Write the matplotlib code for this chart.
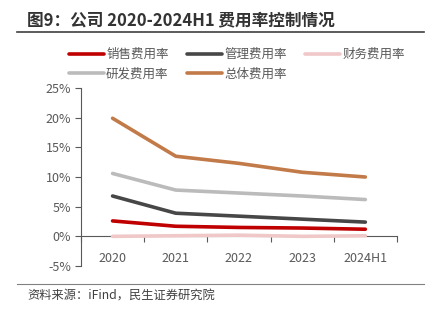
import matplotlib
matplotlib.use("Agg")
import matplotlib.pyplot as plt
from matplotlib.lines import Line2D
from matplotlib.ticker import FuncFormatter

plt.rcParams['font.family'] = ['Noto Sans CJK SC', 'DejaVu Sans']

years = ['2020', '2021', '2022', '2023', '2024H1']
sales = [2.6, 1.7, 1.5, 1.4, 1.2]
admin = [6.8, 3.9, 3.4, 2.9, 2.4]
finance = [0.0, 0.1, 0.2, 0.0, 0.1]
rnd = [10.6, 7.8, 7.3, 6.8, 6.2]
total = [19.9, 13.5, 12.3, 10.8, 10.0]

series = [
    ('销售费用率', sales, '#C00000'),
    ('管理费用率', admin, '#474747'),
    ('财务费用率', finance, '#F0C8C8'),
    ('研发费用率', rnd, '#BBBBBB'),
    ('总体费用率', total, '#C27A48'),
]

fig = plt.figure(figsize=(4.34, 3.25), dpi=100)
ax = fig.add_axes([0.1866, 0.1815, 0.728, 0.5477])

x = list(range(len(years)))
handles = {}
for name, vals, color in series:
    h, = ax.plot(x, vals, color=color, lw=2.6, solid_capstyle='round', label=name, zorder=3)
    handles[name] = h

ax.set_xlim(-0.5, 4.5)
ax.set_ylim(-5, 25)
ax.set_yticks([-5, 0, 5, 10, 15, 20, 25])
ax.yaxis.set_major_formatter(FuncFormatter(lambda v, p: f'{v:.0f}%'))

ax.set_xticks(x)
ax.set_xticklabels(years)
ax.set_xticks([i + 0.5 for i in range(-1, 5)], minor=True)
ax.tick_params(axis='x', which='major', length=0, pad=11, labelsize=9, labelcolor='#595959')
ax.tick_params(axis='x', which='minor', length=4, width=0.8, color='#595959', direction='out')
ax.tick_params(axis='y', length=4, width=0.8, color='#595959', labelsize=9, labelcolor='#595959', pad=3)

for s in ['top', 'right']:
    ax.spines[s].set_visible(False)
ax.spines['bottom'].set_position(('data', 0))
ax.spines['bottom'].set_color('#595959')
ax.spines['bottom'].set_linewidth(0.8)
ax.spines['left'].set_color('#595959')
ax.spines['left'].set_linewidth(0.8)
ax.spines['bottom'].set_zorder(2)

# legend fills column-wise, so order entries to read row-wise like the original
order = ['销售费用率', '研发费用率', '管理费用率', '总体费用率', '财务费用率']
fig.legend(handles=[handles[n] for n in order], loc='upper left', bbox_to_anchor=(0.148, 0.868), ncol=3,
           frameon=False, fontsize=9, labelcolor='#595959', handlelength=2.8,
           handletextpad=0.15, columnspacing=1.5, labelspacing=0.55, borderaxespad=0)

fig.text(0.062, 0.937, '图9：公司 2020-2024H1 费用率控制情况', fontsize=12,
         fontweight='bold', color='#333333', va='center')
fig.add_artist(Line2D([0.04, 0.977], [0.9015, 0.9015], color='#404040', lw=1.2))
fig.add_artist(Line2D([0.04, 0.977], [0.126, 0.126], color='#808080', lw=0.8))
fig.text(0.062, 0.088, '资料来源：iFind，民生证券研究院', fontsize=8.8, color='#404040', va='center')

fig.savefig('out.png', dpi=100)
